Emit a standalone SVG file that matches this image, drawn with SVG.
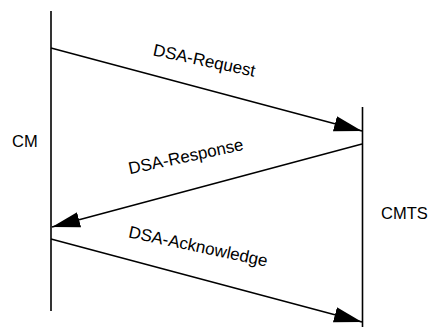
<svg xmlns="http://www.w3.org/2000/svg" width="431" height="329" viewBox="0 0 431 329">
<style>
.life{stroke:#000;stroke-width:1.6;fill:none}
.msg{stroke:#000;stroke-width:1.5;fill:none;marker-end:url(#ah)}
text{font-family:"Liberation Sans",Arial,sans-serif;font-size:16.5px;fill:#000}
.lbl{text-anchor:middle;font-size:17px}
</style>
<defs>
<marker id="ah" markerUnits="userSpaceOnUse" markerWidth="28" markerHeight="16" viewBox="0 0 27 15" refX="27" refY="7.5" orient="auto">
<path d="M0,0 L27,7.5 L0,15 z" fill="#000"/>
</marker>
</defs>
<g id="CM">
<line class="life" x1="51" y1="11" x2="51" y2="311"/>
<text x="12" y="146.5">CM</text>
</g>
<g id="CMTS">
<line class="life" x1="362.5" y1="107" x2="362.5" y2="327"/>
<text x="381" y="219">CMTS</text>
</g>
<g id="connectors">
<line class="msg" x1="51" y1="48" x2="362" y2="131"/>
<line class="msg" x1="362" y1="144" x2="52" y2="227"/>
<line class="msg" x1="51" y1="239" x2="362" y2="322"/>
<text class="lbl" transform="translate(203,66) rotate(12)">DSA-Request</text>
<text class="lbl" transform="translate(187,162) rotate(-12)">DSA-Response</text>
<text class="lbl" transform="translate(197,252) rotate(12)">DSA-Acknowledge</text>
</g>
</svg>
